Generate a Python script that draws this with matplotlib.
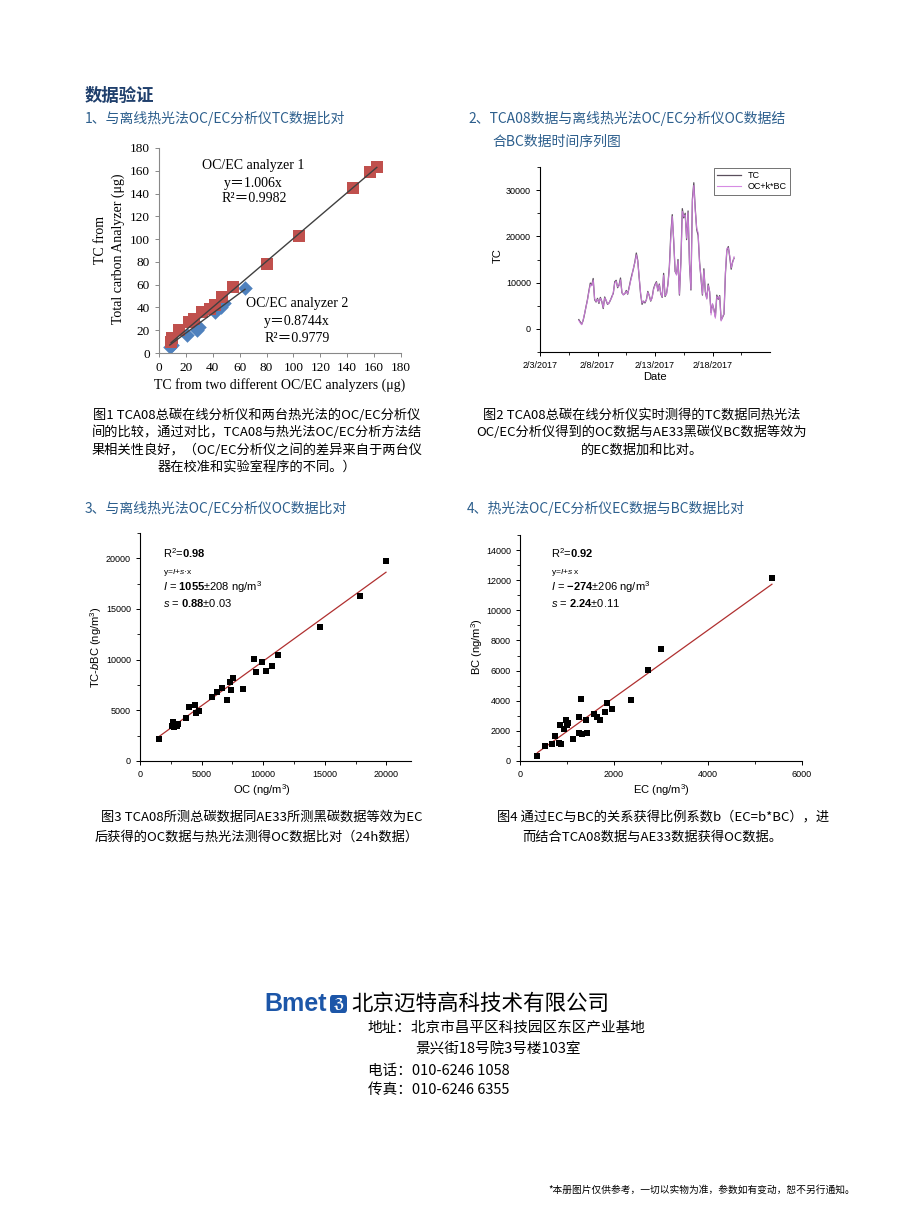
import matplotlib
matplotlib.use("Agg")
import matplotlib.pyplot as plt
from matplotlib.ticker import MultipleLocator
from matplotlib.patches import FancyBboxPatch
import numpy as np
import pandas as pd

plt.rcParams['font.family'] = ['Noto Sans CJK SC', 'DejaVu Sans']
plt.rcParams['mathtext.fontset'] = 'custom'
plt.rcParams['mathtext.rm'] = 'Liberation Sans'
plt.rcParams['mathtext.it'] = 'Liberation Sans:italic'
plt.rcParams['mathtext.bf'] = 'Liberation Sans:bold'

# chart 1: TC comparison (ug)
an1_x = [9, 10, 15, 22, 26, 32, 38, 42, 47, 55, 80, 104, 144, 157, 162]
an1_y = [10, 13, 20, 27, 30, 36, 39, 42, 49, 58, 78, 103, 145, 159, 163]
an2_x = [8, 10, 21, 28, 30, 42, 46, 48, 64]
an2_y = [5, 7, 16, 20, 23, 36, 40, 44, 57]
slope1, slope2 = 1.006, 0.8744

# chart 2: time series, 3-hourly from 2017-02-06 09:00
tc = [2000, 1500, 1000, 1800, 3200, 4800, 6300, 8200, 9900, 9400,
      10900, 6300, 5800, 6600, 5500, 6800, 5900, 4400, 6900, 6100,
      5300, 5600, 6200, 7000, 7700, 10200, 10500, 8900, 9500, 11000,
      7800, 7400, 7600, 8300, 7500, 9000, 10500, 11800, 13000, 14500,
      16400, 14800, 11000, 7500, 5300, 6000, 5600, 6300, 8100, 7200,
      6000, 6800, 8700, 9600, 10200, 8200, 9700, 7600, 6800, 12000,
      7000, 7600, 9700, 13500, 20500, 24700, 19000, 12400, 11800, 15000,
      7300, 14500, 26000, 24000, 25000, 19300, 25500, 14000, 8400, 28000,
      31600, 26000, 21500, 20200, 14500, 10900, 7300, 13000, 8000, 6600,
      9700, 8000, 3500, 5300, 4200, 2600, 7300, 6400, 7200, 1900,
      2500, 3200, 12000, 17000, 17800, 15500, 12900, 14500, 15300]
ockbc = [1800, 1300, 900, 1900, 3300, 4700, 6200, 8000, 9600, 9300,
         10500, 6500, 5900, 6400, 5700, 6600, 6000, 4600, 6700, 6200,
         5400, 5500, 6300, 6800, 7900, 9900, 10300, 9100, 9300, 10600,
         7900, 7300, 7700, 8100, 7600, 8800, 10300, 11500, 13200, 14300,
         16000, 14600, 11200, 7700, 5600, 5900, 5800, 6200, 7900, 7300,
         6100, 6700, 8500, 9400, 10000, 8300, 9500, 7700, 6900, 11600,
         7200, 7500, 9500, 13200, 19800, 24300, 19300, 12600, 11600, 14700,
         7500, 14200, 25400, 24300, 24600, 19600, 25100, 14300, 8600, 27500,
         31000, 25600, 21800, 20800, 14200, 11200, 7500, 12600, 8300, 6400,
         9400, 8200, 3000, 5500, 4000, 2300, 7000, 6600, 7000, 1700,
         2600, 3400, 12300, 17400, 17500, 15800, 13200, 14300, 15600]
times = pd.date_range('2017-02-06 09:00', periods=len(tc), freq='3h')
date_ticks = ['2017-02-03', '2017-02-08', '2017-02-13', '2017-02-18']
date_labels = ['2/3/2017', '2/8/2017', '2/13/2017', '2/18/2017']

# chart 3: OC vs TC-bBC (ng/m3)
oc_x = [1540, 2600, 2700, 2800, 2900, 3000, 3100, 3700, 4000, 4460, 4540, 4760,
        5870, 6240, 6620, 7050, 7350, 7320, 7570, 8380, 9270, 9400, 9870,
        10190, 10700, 11240, 14600, 17840, 19970]
oc_y = [2180, 3500, 3800, 3400, 3600, 3500, 3700, 4220, 5300, 5570, 4750, 4910,
        6290, 6850, 7180, 6000, 6990, 7840, 8200, 7150, 10080, 8770, 9790,
        8900, 9390, 10480, 13180, 16280, 19700]
fit3 = (1055, 0.88)

# chart 4: EC vs BC (ng/m3)
ec_x = [370, 540, 690, 740, 830, 880, 860, 930, 970, 990, 1030, 1120, 1250,
        1250, 1300, 1320, 1410, 1420, 1570, 1640, 1710, 1810, 1860, 1960,
        2370, 2720, 3000, 5360]
bc_y = [360, 1020, 1140, 1630, 1220, 1140, 2400, 2110, 2690, 2360, 2540, 1450,
        2890, 1830, 4100, 1760, 2690, 1870, 3090, 2940, 2740, 3230, 3850, 3430,
        4050, 6030, 7460, 12130]
fit4 = (-274, 2.24)

W, H = 900, 1220
fig = plt.figure(figsize=(9, 12.2), dpi=100)
fig.patch.set_facecolor('white')


def add_ax(l, t, r, b):
    return fig.add_axes([l / W, 1 - b / H, (r - l) / W, (b - t) / H])


def txt(x, y, s, **kw):
    kw.setdefault('va', 'center')
    return fig.text(x / W, 1 - y / H, s, **kw)


def frame(ax):
    ax.spines['top'].set_visible(False)
    ax.spines['right'].set_visible(False)
    ax.tick_params(direction='out', width=0.7, length=3)
    ax.tick_params(which='minor', direction='out', width=0.6, length=2)
    for s in ['left', 'bottom']:
        ax.spines[s].set_linewidth(0.8)


head = '#1f3f6c'
sub = '#2d5f8d'
serif = ['Liberation Serif', 'Noto Sans CJK SC']
sans = ['Liberation Sans', 'Noto Sans CJK SC']

# headings
txt(85, 96, '数据验证', fontsize=12.5, fontweight='bold', color=head)
txt(85, 118, '1、与离线热光法OC/EC分析仪TC数据比对', fontsize=10, color=sub)
txt(468, 118, '2、TCA08数据与离线热光法OC/EC分析仪OC数据结', fontsize=10, color=sub)
txt(492, 142, '合BC数据时间序列图', fontsize=10, color=sub)
txt(85, 508, '3、与离线热光法OC/EC分析仪OC数据比对', fontsize=10, color=sub)
txt(467, 508, '4、热光法OC/EC分析仪EC数据与BC数据比对', fontsize=10, color=sub)

# ---- chart 1
ax1 = add_ax(159, 148, 401, 353)
ax1.plot([an1_x[0], an1_x[-1]], [slope1 * an1_x[0], slope1 * an1_x[-1]], color='#404040', lw=1, zorder=3)
ax1.plot([an2_x[0], an2_x[-1]], [slope2 * an2_x[0], slope2 * an2_x[-1]], color='#404040', lw=1, zorder=3)
ax1.scatter(an2_x, an2_y, marker='D', s=55, color='#4f81bd', zorder=2, linewidths=0)
ax1.scatter(an1_x, an1_y, marker='s', s=85, color='#c0504d', zorder=2, linewidths=0)
ax1.set_xlim(0, 180)
ax1.set_ylim(0, 180)
ax1.xaxis.set_major_locator(MultipleLocator(20))
ax1.yaxis.set_major_locator(MultipleLocator(20))
frame(ax1)
ax1.spines['left'].set_color('#888888')
ax1.spines['bottom'].set_color('#888888')
ax1.tick_params(colors='#888888', labelcolor='black', labelsize=9.5)
for lab in ax1.get_xticklabels() + ax1.get_yticklabels():
    lab.set_fontfamily(serif)
txt(280, 385, 'TC from two different OC/EC analyzers (μg)', fontsize=10, family=serif, ha='center')
txt(101, 240, 'TC from', fontsize=10, family=serif, ha='center', rotation=90)
txt(118, 249, 'Total carbon Analyzer (μg)', fontsize=10, family=serif, ha='center', rotation=90)
txt(253, 166, 'OC/EC analyzer 1', fontsize=10, family=serif, ha='center')
txt(253, 183, 'y＝1.006x', fontsize=10, family=serif, ha='center')
txt(254, 199, 'R²＝0.9982', fontsize=10, family=serif, ha='center')
txt(297, 303, 'OC/EC analyzer 2', fontsize=10, family=serif, ha='center')
txt(297, 321, 'y＝0.8744x', fontsize=10, family=serif, ha='center')
txt(297, 338, 'R²＝0.9779', fontsize=10, family=serif, ha='center')

# ---- chart 2
ax2 = add_ax(540, 167, 770, 352)
ax2.plot(times, tc, color='#5a4f5c', lw=0.9, label='TC')
ax2.plot(times, ockbc, color='#d27ee0', lw=0.8, alpha=0.9, label='OC+k*BC')
ax2.set_xlim(pd.Timestamp('2017-02-03'), pd.Timestamp('2017-02-23'))
ax2.set_ylim(-5000, 35000)
ax2.set_xticks(pd.to_datetime(date_ticks))
ax2.set_xticklabels(date_labels)
ax2.set_xticks(pd.to_datetime(['2017-02-05 12:00', '2017-02-10 12:00', '2017-02-15 12:00',
                               '2017-02-20 12:00']), minor=True)
ax2.yaxis.set_minor_locator(MultipleLocator(5000))
ax2.set_yticks([0, 10000, 20000, 30000])
frame(ax2)
ax2.tick_params(labelsize=6.5)
for lab in ax2.get_xticklabels() + ax2.get_yticklabels():
    lab.set_fontfamily(sans)
txt(655, 377, 'Date', fontsize=8, family=sans, ha='center')
txt(498, 256, 'TC', fontsize=8, family=sans, ha='center', rotation=90)
leg = ax2.legend(loc='upper right', bbox_to_anchor=(790 / W, 1 - 168 / H), bbox_transform=fig.transFigure,
                 frameon=True, fancybox=False, borderaxespad=0, handlelength=2.6,
                 labelspacing=0.25, borderpad=0.35, prop={'family': sans, 'size': 6.5})
leg.get_frame().set_edgecolor('#333333')
leg.get_frame().set_linewidth(0.6)

# ---- chart 3
ax3 = add_ax(140, 533, 411, 761)
ax3.scatter(oc_x, oc_y, marker='s', s=22, color='black', zorder=3, linewidths=0)
xf = np.array([min(oc_x), max(oc_x)])
ax3.plot(xf, fit3[0] + fit3[1] * xf, color='#b03030', lw=0.9, zorder=2)
ax3.set_xlim(0, 22000)
ax3.set_ylim(0, 22500)
ax3.xaxis.set_major_locator(MultipleLocator(5000))
ax3.xaxis.set_minor_locator(MultipleLocator(2500))
ax3.yaxis.set_major_locator(MultipleLocator(5000))
ax3.yaxis.set_minor_locator(MultipleLocator(2500))
frame(ax3)
ax3.tick_params(labelsize=6.5)
for lab in ax3.get_xticklabels() + ax3.get_yticklabels():
    lab.set_fontfamily(sans)
txt(262, 790, 'OC (ng/m$^3$)', fontsize=8, family=sans, ha='center')
txt(96, 647, 'TC-$\\mathit{b}$BC (ng/m$^3$)', fontsize=8, family=sans, ha='center', rotation=90)
txt(163, 553, 'R$^2$=$\\mathbf{0.98}$', fontsize=8, family=sans)
txt(163, 573, 'y=$\\mathit{I}$+$\\mathit{s}$·x', fontsize=6, family=sans)
txt(163, 587, '$\\mathit{I}$ = $\\mathbf{1055}$±208 ng/m$^3$', fontsize=8, family=sans)
txt(163, 603, '$\\mathit{s}$ = $\\mathbf{0.88}$±0.03', fontsize=8, family=sans)

# ---- chart 4
ax4 = add_ax(520, 535, 802, 761)
ax4.scatter(ec_x, bc_y, marker='s', s=22, color='black', zorder=3, linewidths=0)
xf = np.array([min(ec_x), max(ec_x)])
ax4.plot(xf, fit4[0] + fit4[1] * xf, color='#b03030', lw=0.9, zorder=2)
ax4.set_xlim(0, 6000)
ax4.set_ylim(0, 15000)
ax4.xaxis.set_major_locator(MultipleLocator(2000))
ax4.xaxis.set_minor_locator(MultipleLocator(1000))
ax4.yaxis.set_major_locator(MultipleLocator(2000))
ax4.yaxis.set_minor_locator(MultipleLocator(1000))
frame(ax4)
ax4.tick_params(labelsize=6.5)
for lab in ax4.get_xticklabels() + ax4.get_yticklabels():
    lab.set_fontfamily(sans)
txt(661, 790, 'EC (ng/m$^3$)', fontsize=8, family=sans, ha='center')
txt(477, 647, 'BC (ng/m$^3$)', fontsize=8, family=sans, ha='center', rotation=90)
txt(551, 553, 'R$^2$=$\\mathbf{0.92}$', fontsize=8, family=sans)
txt(551, 573, 'y=$\\mathit{I}$+$\\mathit{s}$ x', fontsize=6, family=sans)
txt(551, 587, '$\\mathit{I}$ = $\\mathbf{-274}$±206 ng/m$^3$', fontsize=8, family=sans)
txt(551, 603, '$\\mathit{s}$ = $\\mathbf{2.24}$±0.11', fontsize=8, family=sans)

# captions
cap1 = ['图1 TCA08总碳在线分析仪和两台热光法的OC/EC分析仪',
        '间的比较，通过对比，TCA08与热光法OC/EC分析方法结',
        '果相关性良好，（OC/EC分析仪之间的差异来自于两台仪',
        '器在校准和实验室程序的不同。）']
for i, line in enumerate(cap1):
    txt(257, 415 + 17.5 * i, line, fontsize=9.5, ha='center')
cap2 = ['图2 TCA08总碳在线分析仪实时测得的TC数据同热光法',
        'OC/EC分析仪得到的OC数据与AE33黑碳仪BC数据等效为',
        '的EC数据加和比对。']
for i, line in enumerate(cap2):
    txt(642, 415 + 17.5 * i, line, fontsize=9.5, ha='center')
txt(262, 817, '图3 TCA08所测总碳数据同AE33所测黑碳数据等效为EC', fontsize=9.5, ha='center')
txt(257, 837, '后获得的OC数据与热光法测得OC数据比对（24h数据）', fontsize=9.5, ha='center')
txt(663, 817, '图4 通过EC与BC的关系获得比例系数b（EC=b*BC），进', fontsize=9.5, ha='center')
txt(652, 837, '而结合TCA08数据与AE33数据获得OC数据。', fontsize=9.5, ha='center')

# company block
txt(264, 1004, 'Bmet', fontsize=18, fontweight='bold', color='#1c56a8', family=['Liberation Sans'])
icon = FancyBboxPatch((330 / W, 1 - 1013 / H), 17 / W, 18 / H, boxstyle='round,pad=0,rounding_size=0.003',
                      transform=fig.transFigure, facecolor='#1c56a8', edgecolor='none')
fig.patches.append(icon)
txt(338.5, 1004, 'ℨ', fontsize=10, color='white', ha='center', family=['DejaVu Sans'], fontweight='bold')
txt(351, 1004, '北京迈特高科技术有限公司', fontsize=15.5, color='black')
txt(368, 1028, '地址：北京市昌平区科技园区东区产业基地', fontsize=10.5, color='black')
txt(415, 1050, '景兴街18号院3号楼103室', fontsize=10.5, color='black')
txt(368, 1071, '电话：010-6246 1058', fontsize=10.5, color='black')
txt(368, 1090, '传真：010-6246 6355', fontsize=10.5, color='black')

txt(548, 1190, '*本册图片仅供参考，一切以实物为准，参数如有变动，恕不另行通知。', fontsize=7, color='black')

fig.savefig('out.png', dpi=100, facecolor='white')
